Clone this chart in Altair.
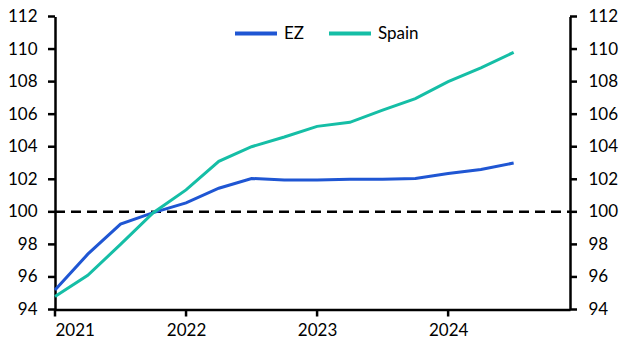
import altair as alt
import pandas as pd

quarters = [2021.0, 2021.25, 2021.5, 2021.75, 2022.0, 2022.25, 2022.5, 2022.75,
            2023.0, 2023.25, 2023.5, 2023.75, 2024.0, 2024.25, 2024.5]
ez = [95.2, 97.4, 99.25, 99.95, 100.55, 101.45, 102.05, 101.95,
      101.95, 102.0, 102.0, 102.05, 102.35, 102.6, 103.0]
spain = [94.8, 96.1, 98.0, 99.95, 101.35, 103.1, 104.0, 104.6,
         105.25, 105.5, 106.25, 106.95, 108.0, 108.85, 109.8]
series = ["EZ", "Spain"]
colors = ["#1f56d3", "#15bea6"]
y_ticks = [94, 96, 98, 100, 102, 104, 106, 108, 110, 112]
x_ticks = [2021, 2022, 2023, 2024]
ref_value = [100]

rows = []
for q, a, b in zip(quarters, ez, spain):
    rows.append({"t": q, "series": "EZ", "v": a})
    rows.append({"t": q, "series": "Spain", "v": b})
df = pd.DataFrame(rows)
ytick_df = pd.DataFrame({"v": y_ticks})
xtick_df = pd.DataFrame({"t": x_ticks})

FONT = "Lato"
FS = 17
W, H, TK = 515, 293, 7

xscale = alt.Scale(domain=[2021, 2024.93], nice=False, zero=False)
yscale = alt.Scale(domain=[94, 112], nice=False, zero=False)

xaxis = alt.Axis(values=x_ticks, format="d", title=None, grid=False, ticks=False,
                 domainColor="black", domainWidth=2.5, labelPadding=13,
                 labelFont=FONT, labelFontSize=FS, labelColor="black")

def yaxis(orient):
    return alt.Axis(orient=orient, values=y_ticks, title=None, grid=False, ticks=False,
                    domainColor="black", domainWidth=2.5, labelPadding=18,
                    labelFont=FONT, labelFontSize=FS, labelColor="black")

lines = alt.Chart(df).mark_line(strokeWidth=3).encode(
    x=alt.X("t:Q", scale=xscale, axis=xaxis),
    y=alt.Y("v:Q", scale=yscale, axis=yaxis("left")),
    color=alt.Color("series:N", scale=alt.Scale(domain=series, range=colors),
                    legend=alt.Legend(orient="none", legendX=178, legendY=-6,
                                      direction="horizontal", title=None,
                                      symbolType="stroke", symbolSize=1764,
                                      symbolStrokeWidth=4, labelFont=FONT,
                                      labelFontSize=FS, labelColor="black",
                                      labelOffset=5, columnPadding=16)),
)

ref = alt.Chart(pd.DataFrame({"r": ref_value})).mark_rule(
    color="black", strokeWidth=2.5, strokeDash=[10, 6]
).encode(
    x=alt.X("t0:Q", scale=xscale, axis=xaxis) if False else alt.value(0),
    x2=alt.value(W),
    y=alt.Y("r:Q", scale=yscale, axis=yaxis("right")),
)

left_ticks = alt.Chart(ytick_df).mark_rule(color="black", strokeWidth=2.5).encode(
    y=alt.Y("v:Q", scale=yscale, axis=None),
    x=alt.value(-TK), x2=alt.value(0))
right_ticks = alt.Chart(ytick_df).mark_rule(color="black", strokeWidth=2.5).encode(
    y=alt.Y("v:Q", scale=yscale, axis=None),
    x=alt.value(W), x2=alt.value(W + TK))
bottom_ticks = alt.Chart(xtick_df).mark_rule(color="black", strokeWidth=2.5).encode(
    x=alt.X("t:Q", scale=xscale, axis=xaxis),
    y=alt.value(H), y2=alt.value(H + TK))

chart = alt.layer(ref, lines, left_ticks, right_ticks, bottom_ticks).resolve_scale(
    y="independent"
).properties(
    width=W, height=H,
    autosize=alt.AutoSizeParams(type="none"),
    padding={"left": 47, "top": 8.5, "right": 51, "bottom": 38},
).configure_view(stroke=None)

chart.save("out.html", embed_options={"renderer": "svg", "actions": False})
